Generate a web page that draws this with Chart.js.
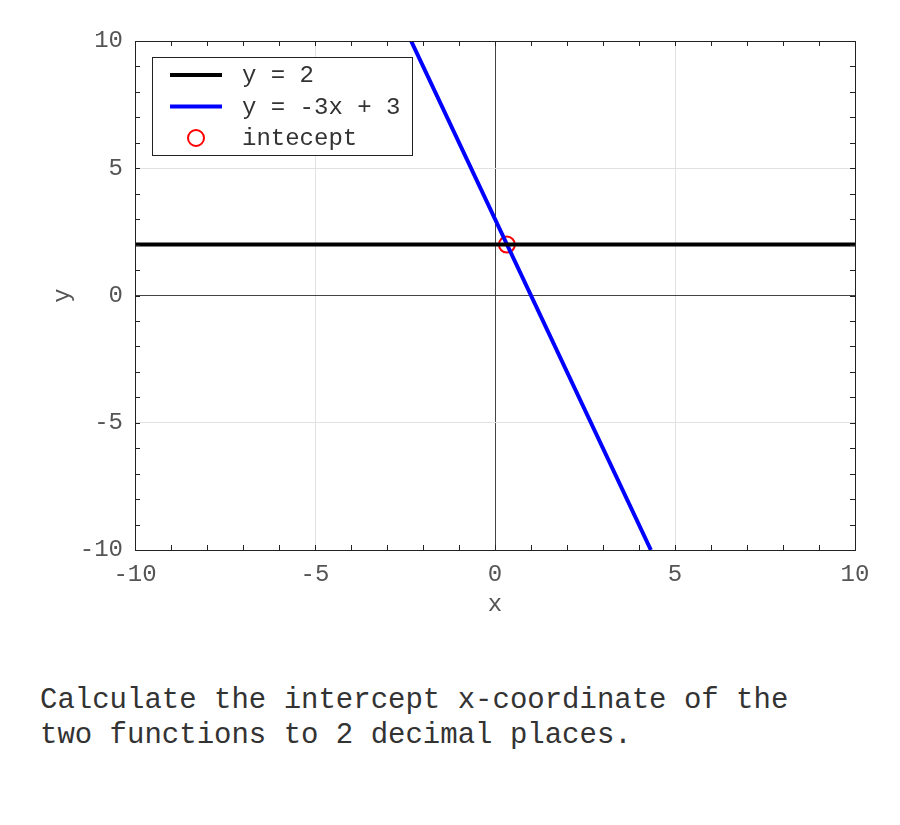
<!DOCTYPE html>
<html>
<head>
<meta charset="utf-8">
<script src="https://cdn.jsdelivr.net/npm/chart.js@4.4.1/dist/chart.umd.min.js"></script>
<style>
  body { margin: 0; background: #fff; }
  #wrap { position: absolute; left: 0; top: 0; width: 900px; height: 640px; }
  #question {
    position: absolute; left: 40px; top: 683px;
    font-family: "Liberation Mono", "Courier New", monospace;
    font-size: 29px; line-height: 35px; color: #333; white-space: pre;
  }
</style>
</head>
<body>
<div id="wrap"><canvas id="chart"></canvas></div>
<div id="question">Calculate the intercept x-coordinate of the
two functions to 2 decimal places.</div>
<script>
// data
const axisMin = -10;
const axisMax = 10;
const majorStep = 5;
const minorStep = 1;
const seriesLabels = ['y = 2', 'y = -3x + 3', 'intecept'];
const flatLineX = [-10, 10];
const flatLineY = [2, 2];
const slopeLineX = [-2.33, 4.33];
const slopeLineY = [10, -10];
const interceptX = [0.33];
const interceptY = [2];

const monoFont = '"Liberation Mono", "Courier New", monospace';

function toPoints(xs, ys) {
  return xs.map((x, i) => ({ x: x, y: ys[i] }));
}

// frame box + inward minor ticks on all four sides
const framePlugin = {
  id: 'frame',
  afterDatasetsDraw(chart) {
    const { ctx, chartArea: a, scales } = chart;
    ctx.save();
    ctx.strokeStyle = '#222';
    ctx.lineWidth = 1;
    ctx.beginPath();
    for (let v = axisMin; v <= axisMax; v += minorStep) {
      const px = Math.round(scales.x.getPixelForValue(v)) + 0.5;
      ctx.moveTo(px, a.top); ctx.lineTo(px, a.top + 5);
      ctx.moveTo(px, a.bottom); ctx.lineTo(px, a.bottom - 5);
      const py = Math.round(scales.y.getPixelForValue(v)) + 0.5;
      ctx.moveTo(a.left, py); ctx.lineTo(a.left + 5, py);
      ctx.moveTo(a.right, py); ctx.lineTo(a.right - 5, py);
    }
    ctx.stroke();
    ctx.strokeRect(Math.round(a.left) + 0.5, Math.round(a.top) + 0.5,
      Math.round(a.right - a.left), Math.round(a.bottom - a.top));
    ctx.restore();
  }
};

// legend box in the upper left of the plot
const legendPlugin = {
  id: 'boxLegend',
  afterDraw(chart) {
    const { ctx, chartArea: a } = chart;
    const x0 = a.left + 17, y0 = a.top + 16, w = 260, h = 98;
    ctx.save();
    ctx.fillStyle = '#fff';
    ctx.fillRect(x0, y0, w, h);
    ctx.strokeStyle = '#222';
    ctx.lineWidth = 1;
    ctx.strokeRect(x0 + 0.5, y0 + 0.5, w, h);
    ctx.font = '24px ' + monoFont;
    ctx.textBaseline = 'middle';
    chart.data.datasets.forEach((ds, i) => {
      const cy = y0 + 18 + i * 31.5;
      ctx.strokeStyle = ds.borderColor;
      ctx.lineWidth = ds.borderWidth;
      ctx.beginPath();
      if (ds.showLine) {
        ctx.moveTo(x0 + 18, cy);
        ctx.lineTo(x0 + 70, cy);
      } else {
        ctx.arc(x0 + 44, cy, ds.pointRadius, 0, Math.PI * 2);
      }
      ctx.stroke();
      ctx.fillStyle = '#333';
      ctx.fillText(ds.label, x0 + 90, cy + 1);
    });
    ctx.restore();
  }
};

const axisStyle = (titleText, titlePadding) => ({
  type: 'linear',
  min: axisMin,
  max: axisMax,
  ticks: {
    stepSize: majorStep,
    color: '#555',
    font: { family: monoFont, size: 24 },
    padding: 10
  },
  grid: {
    drawTicks: false,
    color: c => (c.tick && c.tick.value === 0) ? '#444' : '#e2e2e2',
    lineWidth: 1
  },
  border: { display: false },
  title: {
    display: true,
    text: titleText,
    color: '#555',
    font: { family: monoFont, size: 24 },
    padding: titlePadding
  }
});

const xAxis = axisStyle('x', { top: 0, bottom: 21 });
xAxis.afterFit = s => { s.height = 90; };
const yAxis = axisStyle('y', { top: 48, bottom: 0 });
yAxis.ticks.padding = 12;
yAxis.afterFit = s => { s.width = 135; };

new Chart(document.getElementById('chart'), {
  type: 'scatter',
  data: {
    datasets: [
      {
        label: seriesLabels[0],
        data: toPoints(flatLineX, flatLineY),
        showLine: true,
        borderColor: '#000',
        borderWidth: 4,
        pointRadius: 0
      },
      {
        label: seriesLabels[1],
        data: toPoints(slopeLineX, slopeLineY),
        showLine: true,
        borderColor: '#0000ff',
        borderWidth: 4,
        pointRadius: 0
      },
      {
        label: seriesLabels[2],
        data: toPoints(interceptX, interceptY),
        showLine: false,
        borderColor: '#ff0000',
        backgroundColor: 'rgba(0,0,0,0)',
        borderWidth: 2,
        pointRadius: 8
      }
    ]
  },
  options: {
    responsive: true,
    maintainAspectRatio: false,
    animation: false,
    layout: { padding: { left: 0, right: 45, top: 41, bottom: 0 } },
    plugins: {
      legend: { display: false },
      tooltip: { enabled: false }
    },
    scales: { x: xAxis, y: yAxis }
  },
  plugins: [framePlugin, legendPlugin]
});
</script>
</body>
</html>
